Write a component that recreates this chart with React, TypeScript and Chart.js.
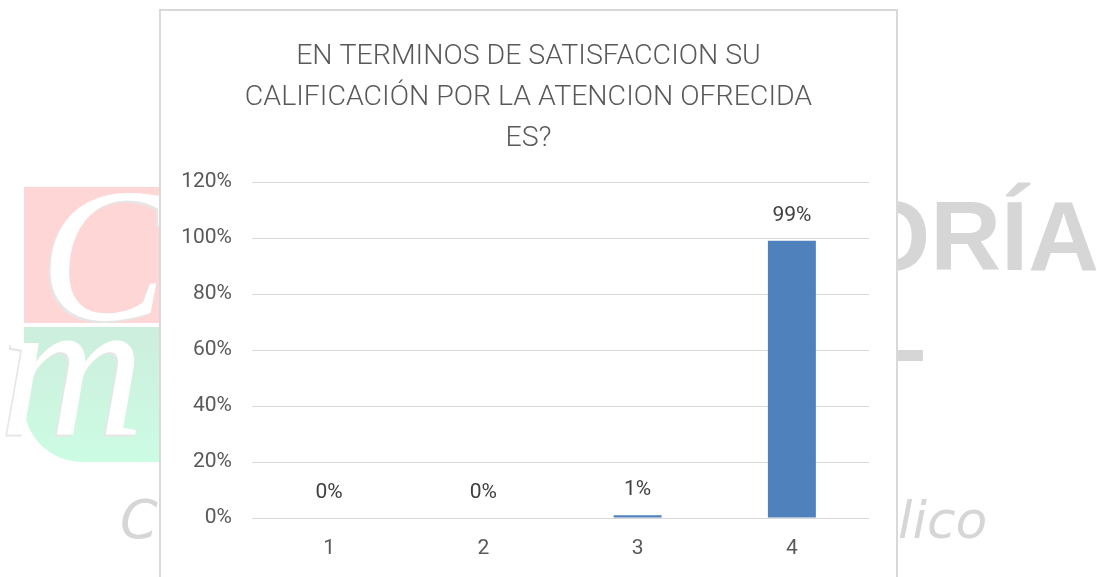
import React, { useEffect, useRef } from "react";
import { Chart, registerables } from "chart.js";

Chart.register(...registerables);

const TITLE_LINES = [
  "EN TERMINOS DE SATISFACCION SU",
  "CALIFICACIÓN POR LA ATENCION OFRECIDA",
  "ES?",
];
const CATEGORIES = ["1", "2", "3", "4"];
const VALUES = [0, 0, 1, 99];
const Y_MAX = 120;
const Y_STEP = 20;

const BAR_COLOR = "#4f81bd";
const TEXT_COLOR = "#595959";
const LABEL_COLOR = "#404040";
const GRID_COLOR = "#d9d9d9";
const FONT = "Roboto";

const valueLabels = {
  id: "valueLabels",
  afterDatasetsDraw(chart: any) {
    const ctx = chart.ctx;
    const meta = chart.getDatasetMeta(0);
    ctx.save();
    ctx.font = `21px ${FONT}`;
    ctx.fillStyle = LABEL_COLOR;
    ctx.textAlign = "center";
    ctx.textBaseline = "middle";
    meta.data.forEach((bar: any, i: number) => {
      ctx.fillText(`${VALUES[i]}%`, bar.x, bar.y - 25);
    });
    ctx.restore();
  },
};

function BarChart() {
  const ref = useRef<HTMLCanvasElement | null>(null);
  useEffect(() => {
    if (!ref.current) return;
    const chart = new Chart(ref.current, {
      type: "bar",
      data: {
        labels: CATEGORIES,
        datasets: [
          {
            data: VALUES,
            yAxisID: "y",
            backgroundColor: BAR_COLOR,
            borderWidth: 0,
            barPercentage: 0.311,
            categoryPercentage: 1,
          },
        ],
      },
      options: {
        responsive: false,
        animation: false,
        layout: { padding: 0 },
        plugins: {
          legend: { display: false },
          tooltip: { enabled: false },
          title: {
            display: true,
            text: TITLE_LINES,
            color: TEXT_COLOR,
            font: { family: FONT, size: 28.5, weight: "300", lineHeight: 41 / 28.5 },
            padding: { top: 26, bottom: 23 },
          },
        },
        scales: {
          x: {
            grid: { display: false, drawTicks: false },
            border: { display: false },
            ticks: {
              color: TEXT_COLOR,
              font: { family: FONT, size: 21 },
              padding: 18,
            },
            afterFit(scale: any) {
              scale.height = 59;
            },
          },
          y: {
            min: 0,
            max: Y_MAX,
            grid: { color: GRID_COLOR, lineWidth: 1, drawTicks: false },
            border: { display: false },
            ticks: {
              stepSize: Y_STEP,
              color: TEXT_COLOR,
              font: { family: FONT, size: 21 },
              padding: 20,
              callback: (v: any) => `${v}%`,
            },
            afterFit(scale: any) {
              scale.width = 92;
            },
          },
          yRight: {
            position: "right",
            min: 0,
            max: Y_MAX,
            grid: { display: false, drawTicks: false },
            border: { display: false },
            ticks: { display: false },
            afterFit(scale: any) {
              scale.width = 28;
            },
          },
        },
      },
      plugins: [valueLabels],
    } as any);
    return () => chart.destroy();
  }, []);
  return (
    <canvas
      ref={ref}
      width={737}
      height={567}
      style={{ position: "absolute", left: 160, top: 10, width: 737, height: 567 }}
    />
  );
}

export default function App() {
  const wm = "#d6d6d6";
  return (
    <div
      style={{
        position: "fixed",
        left: 0,
        top: 0,
        width: 1102,
        height: 577,
        overflow: "hidden",
        background: "#ffffff",
      }}
    >
      {/* watermark background */}
      <div
        style={{
          position: "absolute",
          left: 24,
          top: 187,
          width: 150,
          height: 136,
          background: "#ffd6d6",
        }}
      />
      <div
        style={{
          position: "absolute",
          left: 24,
          top: 327,
          width: 150,
          height: 135,
          background: "linear-gradient(180deg, #cdeedd 0%, #ccfce3 100%)",
          borderBottomLeftRadius: 58,
        }}
      />
      <div
        style={{
          position: "absolute",
          left: 40,
          top: 160,
          fontFamily: "Liberation Serif",
          fontStyle: "italic",
          fontSize: 190,
          lineHeight: "190px",
          color: "#ffffff",
          textShadow: "-2px 2px 0 #e6e6e6",
        }}
      >
        C
      </div>
      <div
        style={{
          position: "absolute",
          left: 0,
          top: 268,
          fontFamily: "Liberation Serif",
          fontStyle: "italic",
          fontSize: 200,
          lineHeight: "200px",
          color: "#ffffff",
          textShadow: "-2px 2px 0 #e6e6e6",
        }}
      >
        m
      </div>
      <div
        style={{
          position: "absolute",
          left: 120,
          top: 493,
          fontFamily: "DejaVu Sans",
          fontStyle: "italic",
          fontSize: 54,
          lineHeight: "54px",
          color: wm,
          whiteSpace: "nowrap",
        }}
      >
        Co
      </div>
      <div
        style={{
          position: "absolute",
          left: 854,
          top: 187,
          fontFamily: "Liberation Sans",
          fontWeight: 700,
          fontSize: 98,
          lineHeight: "98px",
          color: wm,
          whiteSpace: "nowrap",
        }}
      >
        ORÍA
      </div>
      <div
        style={{
          position: "absolute",
          left: 866,
          top: 278,
          fontFamily: "Liberation Sans",
          fontWeight: 700,
          fontSize: 98,
          lineHeight: "98px",
          color: wm,
        }}
      >
        L
      </div>
      <div
        style={{
          position: "absolute",
          left: 898,
          top: 493,
          fontFamily: "DejaVu Sans",
          fontStyle: "italic",
          fontSize: 52,
          lineHeight: "54px",
          color: wm,
          whiteSpace: "nowrap",
        }}
      >
        lico
      </div>
      {/* chart panel */}
      <div
        style={{
          position: "absolute",
          left: 159,
          top: 9,
          width: 739,
          height: 600,
          boxSizing: "border-box",
          border: "2px solid #d9d9d9",
          background: "#ffffff",
        }}
      />
      <BarChart />
    </div>
  );
}
